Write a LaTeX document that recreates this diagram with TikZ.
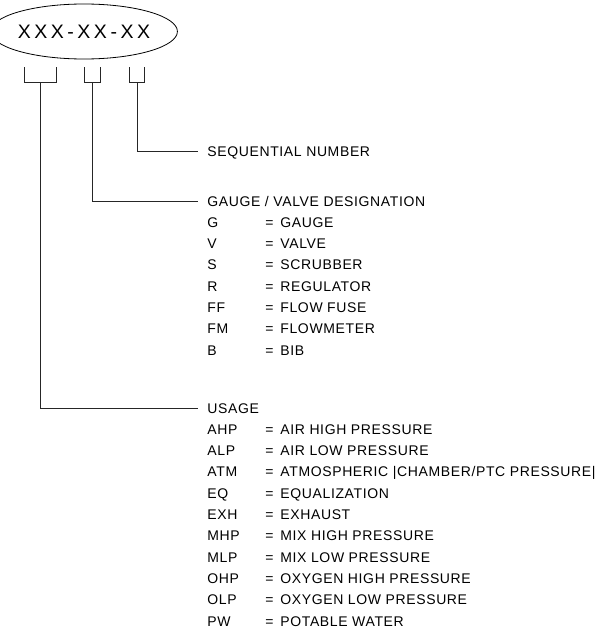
\documentclass[tikz,border=0pt]{standalone}
\usepackage{fontspec}
\setmainfont{Liberation Sans}
\newfontfamily\lblfont[LetterSpace=4.5]{Liberation Sans}
\newfontfamily\idfont[LetterSpace=18]{Liberation Sans}
\usetikzlibrary{shapes.geometric}
\begin{document}
\begin{tikzpicture}[x=1pt,y=-1pt,line width=0.8pt,
  lbl/.style={anchor=west,inner sep=0pt,font=\lblfont\fontsize{14}{14}\selectfont,text height=10pt,text depth=0pt},
  conn/.style={draw=black!85,line width=0.8pt},
  brk/.style={draw=black!85,line width=0.8pt}]
\useasboundingbox (0,0) rectangle (604,642);
% identifier ellipse
\node[ellipse,draw,minimum width=150pt,minimum height=55pt,inner sep=0pt,
      font=\idfont\fontsize{19.5}{19.5}\selectfont] (id) at (84,31.5) {XXX-XX-XX};
% brackets
\draw[brk] (24,67) -- (24,82) -- (56,82) -- (56,67);
\draw[brk] (84,67) -- (84,82) -- (100,82) -- (100,67);
\draw[brk] (129,67) -- (129,82) -- (144,82) -- (144,67);
\coordinate (b1) at (40.5,82);
\coordinate (b2) at (92,82);
\coordinate (b3) at (137,82);
% headings
\node[lbl] (seq) at (207,151) {SEQUENTIAL NUMBER};
\node[lbl] (gv) at (207,201) {GAUGE / VALVE DESIGNATION};
\node[lbl] (usage) at (207,408) {USAGE};
% connectors
\draw[conn] (b3) |- ([xshift=-9pt]seq.west);
\draw[conn] (b2) |- ([xshift=-9pt]gv.west);
\draw[conn] (b1) |- ([xshift=-9pt]usage.west);
% gauge / valve list
\foreach \c/\d [count=\i] in {G/GAUGE,V/VALVE,S/SCRUBBER,R/REGULATOR,FF/{FLOW FUSE},FM/FLOWMETER,B/BIB}{
  \node[lbl] (gc\i) at (207,201+21.3*\i) {\c};
  \node[lbl] (ge\i) at (265,201+21.3*\i) {=};
  \node[lbl] (gd\i) at (280,201+21.3*\i) {\d};
}
% usage list
\foreach \c/\d [count=\i] in {AHP/{AIR HIGH PRESSURE},ALP/{AIR LOW PRESSURE},ATM/{ATMOSPHERIC |CHAMBER/PTC PRESSURE|},EQ/EQUALIZATION,EXH/EXHAUST,MHP/{MIX HIGH PRESSURE},MLP/{MIX LOW PRESSURE},OHP/{OXYGEN HIGH PRESSURE},OLP/{OXYGEN LOW PRESSURE},PW/{POTABLE WATER}}{
  \node[lbl] (uc\i) at (207,408+21.3*\i) {\c};
  \node[lbl] (ue\i) at (265,408+21.3*\i) {=};
  \node[lbl] (ud\i) at (280,408+21.3*\i) {\d};
}
\end{tikzpicture}
\end{document}
